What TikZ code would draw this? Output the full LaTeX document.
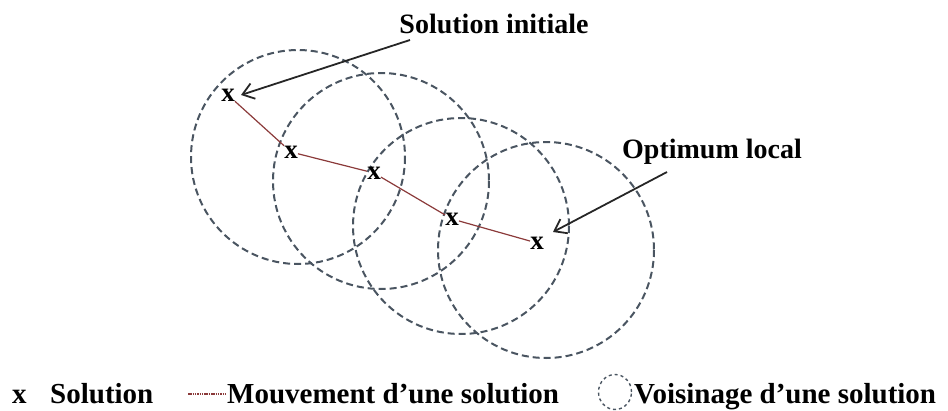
\documentclass[tikz,border=0pt]{standalone}
\usepackage{fontspec}
\setmainfont{Liberation Serif}
\usetikzlibrary{arrows.meta,shapes.geometric}
\definecolor{circ}{HTML}{4A5561}
\definecolor{mv}{HTML}{8B3A3A}
\begin{document}
\begin{tikzpicture}[x=1pt,y=-1pt,
  nb/.style={circle,draw=circ,dashed,dash pattern=on 7pt off 4pt,line width=2pt},
  sol/.style={font=\bfseries\fontsize{27}{27}\selectfont,inner sep=0pt},
  lbl/.style={font=\bfseries\fontsize{28}{28}\selectfont,inner sep=0pt,anchor=base},
  leg/.style={font=\bfseries\fontsize{29}{29}\selectfont,inner sep=0pt,anchor=base west},
  arr/.style={-{Straight Barb[length=11pt,width=16pt]},line width=1.8pt,black!85}]
\useasboundingbox (0,0) rectangle (948,410);
\draw[nb] (298,157) circle (107);
\draw[nb] (381,181) circle (108);
\draw[nb] (461,226) circle (108);
\draw[nb] (546,250) circle (108);
\node[sol] (p1) at (228,95) {x};
\node[sol] (p2) at (291,152) {x};
\node[sol] (p3) at (374,173) {x};
\node[sol] (p4) at (452,219) {x};
\node[sol] (p5) at (537,243) {x};
\draw[mv,line width=1.2pt] (p1) -- (p2) -- (p3) -- (p4) -- (p5);
\node[lbl] (si) at (494,33) {Solution initiale};
\node[lbl] (ol) at (712,158) {Optimum local};
\coordinate (sa) at (410,40);
\coordinate (oa) at (667,172);
\coordinate (sb) at (241,95);
\coordinate (ob) at (553,232);
\draw[arr] (sa) -- (sb);
\draw[arr] (oa) -- (ob);
\node[leg] (lx) at (12,403) {x};
\node[leg] (ls) at (50,403) {Solution};
\coordinate (m1) at (188,394);
\coordinate (m2) at (226,394);
\draw[mv,line width=1.5pt,dash pattern=on 1.5pt off 0.8pt] (m1) -- (m2);
\node[leg] (lm) at (227,403) {Mouvement d’une solution};
\node[ellipse,draw=circ,dashed,dash pattern=on 3pt off 3pt,line width=1.4pt,minimum width=33pt,minimum height=35pt,inner sep=0pt] (lc) at (615,392) {};
\node[leg] (lv) at (634,403) {Voisinage d’une solution};
\end{tikzpicture}
\end{document}
